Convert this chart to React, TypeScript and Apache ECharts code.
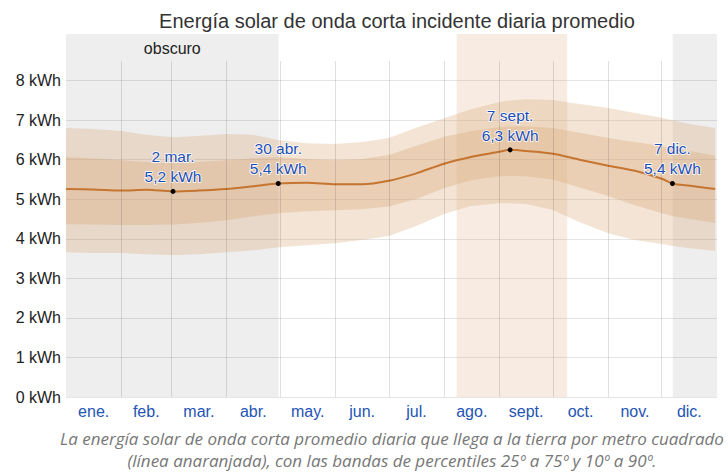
import React, { useEffect, useRef } from "react";
import * as echarts from "echarts";

// day-of-year sample positions (0 = 1 Jan)
const days = [0, 15, 31, 45, 60, 74, 90, 105, 119, 135, 151, 166, 181, 196, 212, 227, 243, 249, 258, 273, 288, 304, 319, 334, 340, 350, 364];
const meanKWh = [5.26, 5.25, 5.22, 5.24, 5.2, 5.22, 5.26, 5.33, 5.4, 5.42, 5.38, 5.38, 5.47, 5.65, 5.9, 6.07, 6.2, 6.25, 6.22, 6.15, 6.0, 5.85, 5.72, 5.52, 5.4, 5.34, 5.26];
const p10 = [3.66, 3.64, 3.64, 3.61, 3.59, 3.61, 3.66, 3.71, 3.79, 3.84, 3.89, 3.97, 4.07, 4.32, 4.63, 4.83, 4.9, 4.9, 4.88, 4.73, 4.42, 4.14, 3.97, 3.87, 3.82, 3.76, 3.69];
const p25 = [4.37, 4.36, 4.35, 4.35, 4.36, 4.4, 4.47, 4.57, 4.65, 4.7, 4.72, 4.75, 4.82, 5.0, 5.28, 5.48, 5.58, 5.59, 5.58, 5.5, 5.3, 5.08, 4.85, 4.65, 4.58, 4.5, 4.4];
const p75 = [6.07, 6.04, 5.99, 5.94, 5.92, 5.94, 5.99, 6.04, 6.07, 6.02, 5.99, 6.02, 6.12, 6.35, 6.58, 6.72, 6.83, 6.84, 6.85, 6.8, 6.68, 6.55, 6.45, 6.35, 6.3, 6.22, 6.1];
const p90 = [6.8, 6.78, 6.73, 6.63, 6.57, 6.6, 6.65, 6.63, 6.5, 6.42, 6.4, 6.45, 6.55, 6.8, 7.05, 7.28, 7.46, 7.5, 7.53, 7.51, 7.41, 7.31, 7.18, 7.06, 7.0, 6.9, 6.8];

const monthNames = ["ene.", "feb.", "mar.", "abr.", "may.", "jun.", "jul.", "ago.", "sept.", "oct.", "nov.", "dic."];
const monthStarts = [0, 31, 59, 90, 120, 151, 181, 212, 243, 273, 304, 334, 365];
const yTicks = [0, 1, 2, 3, 4, 5, 6, 7, 8];

const darkPeriods = [[0, 119.2], [340.2, 365]];
const brightPeriod = [219, 281];

const annotDays = [60, 119, 249, 340];
const annotValues = [5.2, 5.4, 6.25, 5.4];
const annotLabels = ["2 mar.\n5,2 kWh", "30 abr.\n5,4 kWh", "7 sept.\n6,3 kWh", "7 dic.\n5,4 kWh"];

const TITLE = "Energía solar de onda corta incidente diaria promedio";
const CAPTION1 = "La energía solar de onda corta promedio diaria que llega a la tierra por metro cuadrado";
const CAPTION2 = "(línea anaranjada), con las bandas de percentiles 25º a 75º y 10º a 90º.";

function bandSeries(name: string, lo: number[], hi: number[], color: string) {
  return {
    type: "custom",
    name,
    z: 2,
    silent: true,
    clip: true,
    data: days.map((d, i) => [d, lo[i], hi[i]]),
    encode: { x: 0, y: [1, 2] },
    renderItem: (params: any, api: any) => {
      if (params.dataIndex !== 0) return null;
      const pts: number[][] = [];
      for (let i = 0; i < days.length; i++) pts.push(api.coord([days[i], hi[i]]));
      for (let i = days.length - 1; i >= 0; i--) pts.push(api.coord([days[i], lo[i]]));
      return { type: "polygon", shape: { points: pts }, style: { fill: color } };
    },
  };
}

export default function App() {
  const ref = useRef<HTMLDivElement>(null);
  useEffect(() => {
    if (!ref.current) return;
    const chart = echarts.init(ref.current, undefined, { renderer: "svg" });
    const pairs = (arr: number[]) => days.map((d, i) => [d, arr[i]]);
    const monthMid = monthStarts.slice(0, 12).map((s, i) => (s + monthStarts[i + 1]) / 2);
    const yMax = 9.18;

    const option: any = {
      animation: false,
      textStyle: { fontFamily: "Liberation Sans, Arial, sans-serif" },
      title: {
        text: TITLE,
        left: 392,
        top: 6,
        textAlign: "center",
        textStyle: { fontSize: 20, fontWeight: "normal", color: "#333", fontFamily: "Liberation Sans, Arial, sans-serif" },
      },
      grid: { left: 66, right: 11, top: 34, bottom: 76 },
      xAxis: {
        type: "value",
        min: 0,
        max: 365,
        axisLine: { show: false },
        axisTick: { show: false },
        splitLine: { show: false },
        axisLabel: {
          customValues: monthMid,
          formatter: (v: number) => {
            const i = monthMid.findIndex((m) => Math.abs(m - v) < 0.01);
            return i >= 0 ? monthNames[i] : "";
          },
          color: "#2454b4",
          fontSize: 16,
          margin: 6,
        },
      },
      yAxis: {
        type: "value",
        min: 0,
        max: yMax,
        interval: 1,
        axisLine: { show: false },
        axisTick: { show: false },
        axisLabel: {
          formatter: (v: number) => (yTicks.indexOf(v) >= 0 ? `${v} kWh` : ""),
          color: "#222",
          fontSize: 16,
          margin: 5,
        },
        splitLine: {
          lineStyle: {
            color: [
              ...yTicks.map(() => "rgba(0,0,0,0.1)"),
              "rgba(0,0,0,0)",
              "rgba(0,0,0,0)",
              "rgba(0,0,0,0)",
            ],
            width: 1,
          },
        },
      },
      series: [
        {
          type: "line",
          name: "bg",
          z: 1,
          data: pairs(meanKWh),
          symbol: "none",
          lineStyle: { opacity: 0 },
          silent: true,
          markArea: {
            silent: true,
            data: [
              [
                {
                  xAxis: darkPeriods[0][0],
                  itemStyle: { color: "rgba(0,0,0,0.065)" },
                  label: {
                    show: true,
                    position: "insideTop",
                    distance: 6,
                    formatter: "obscuro",
                    color: "#222",
                    fontSize: 16,
                  },
                },
                { xAxis: darkPeriods[0][1] },
              ],
              [
                { xAxis: darkPeriods[1][0], itemStyle: { color: "rgba(0,0,0,0.065)" } },
                { xAxis: darkPeriods[1][1] },
              ],
              [
                { xAxis: brightPeriod[0], itemStyle: { color: "rgba(220,160,110,0.2)" } },
                { xAxis: brightPeriod[1] },
              ],
            ],
          },
          markLine: {
            silent: true,
            symbol: "none",
            label: { show: false },
            lineStyle: { color: "rgba(0,0,0,0.12)", width: 1, type: "solid" },
            data: monthStarts.slice(1, 12).map((d) => [
              { coord: [d, 0] },
              { coord: [d, 8.5] },
            ]),
          },
        },
        bandSeries("p10-90", p10, p90, "rgba(215,165,115,0.3)"),
        bandSeries("p25-75", p25, p75, "rgba(215,165,115,0.32)"),
        {
          type: "line",
          name: "mean",
          z: 3,
          data: pairs(meanKWh),
          symbol: "none",
          smooth: 0.3,
          lineStyle: { color: "#c5752f", width: 2 },
          silent: true,
        },
        {
          type: "scatter",
          name: "annot",
          z: 4,
          symbolSize: 5,
          itemStyle: { color: "#000", opacity: 1 },
          data: annotDays.map((d, i) => ({
            value: [d, annotValues[i]],
            label: { formatter: annotLabels[i] },
          })),
          label: {
            show: true,
            position: "top",
            distance: 2,
            fontSize: 15.5,
            lineHeight: 20,
            color: "#1c4db4",
            opacity: 1,
            textBorderColor: "#ffffff",
            textBorderWidth: 1.5,
            align: "center",
          },
          silent: true,
        },
      ],
      graphic: [
        {
          type: "text",
          x: 392,
          y: 427,
          style: {
            text: CAPTION1 + "\n" + CAPTION2,
            textAlign: "center",
            fontFamily: "Open Sans, sans-serif",
            fontStyle: "italic",
            fontSize: 17,
            fill: "#777",
            lineHeight: 22,
          },
        },
      ],
    };
    chart.setOption(option);
    return () => chart.dispose();
  }, []);
  return (
    <div
      ref={ref}
      style={{ position: "absolute", left: 0, top: 0, width: 728, height: 473 }}
    />
  );
}
